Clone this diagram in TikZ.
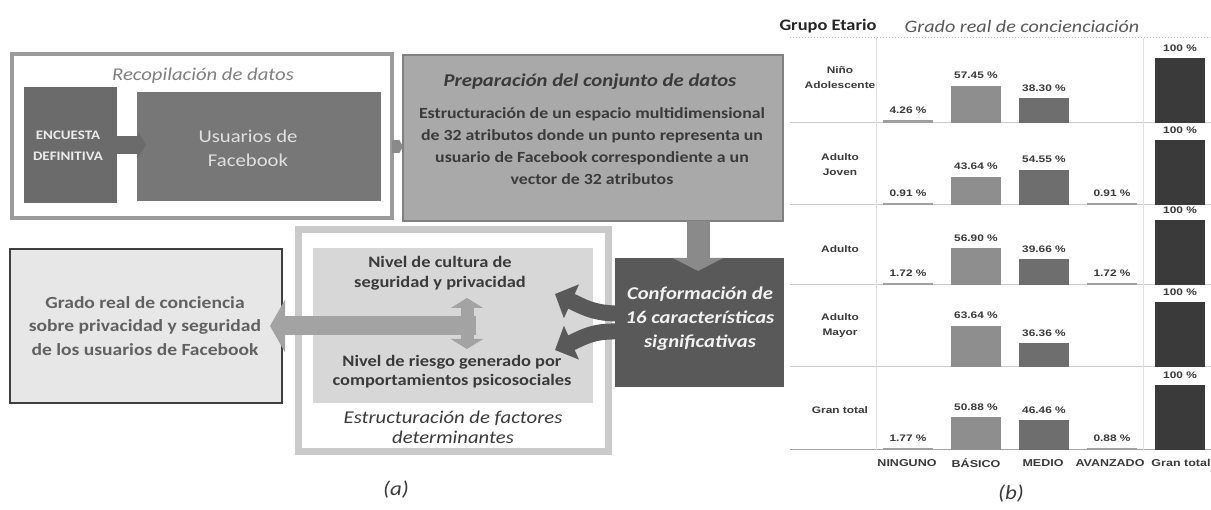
\documentclass[tikz,border=0pt]{standalone}
\usepackage{fontspec}
\setmainfont{Carlito}[FakeStretch=1.15]
\newfontfamily\chartfont{Liberation Sans}[FakeStretch=1.25]
\usetikzlibrary{arrows.meta,calc}
\definecolor{cEnc}{HTML}{6B6B6B}
\definecolor{cUsu}{HTML}{777777}
\definecolor{cPrep}{HTML}{A9A9A9}
\definecolor{cPrepB}{HTML}{808080}
\definecolor{cConf}{HTML}{595959}
\definecolor{cInner}{HTML}{D7D7D7}
\definecolor{cOuter}{HTML}{CACACA}
\definecolor{cGrado}{HTML}{E7E7E7}
\definecolor{cGradoB}{HTML}{3F3F3F}
\definecolor{cArrL}{HTML}{A3A3A3}
\definecolor{cArrD}{HTML}{8A8A8A}
\definecolor{cRecB}{HTML}{9B9B9B}
\definecolor{cBas}{HTML}{8E8E8E}
\definecolor{cMed}{HTML}{6E6E6E}
\definecolor{cGT}{HTML}{3A3A3A}
\definecolor{cThin}{HTML}{A0A0A0}
\definecolor{cGrid}{HTML}{CDCDCD}
\definecolor{cTxt}{HTML}{3A3A3A}
\newcommand\chartbar[5]{%
  \fill[#4] (#1,#2) rectangle ++(50,{-max(2,0.65*#3)});
  \node[pctlbl] at ({#1+25},{#2-max(2,0.65*#3)-10}) {#5};}
\begin{document}
\begin{tikzpicture}[x=1pt,y=-1pt,
  box/.style={rectangle,inner sep=0pt,outer sep=0pt},
  lbl/.style={align=center,inner sep=0pt},
  pctlbl/.style={inner sep=0pt,font=\chartfont\bfseries\fontsize{9.5}{11}\selectfont,text=cTxt},
  rowlbl/.style={inner sep=0pt,align=center,font=\chartfont\bfseries\fontsize{9.5}{15}\selectfont,text=cTxt},
  collbl/.style={inner sep=0pt,font=\chartfont\bfseries\fontsize{10}{12}\selectfont,text=cTxt}]
\useasboundingbox[fill=white] (0,0) rectangle (1211,510);

% ---------- (a) ----------
\node[box,draw=cRecB,line width=4pt,fill=white,minimum width=380pt,minimum height=164pt] (rec) at (202,136) {};
\node[lbl,font=\itshape\fontsize{18}{20}\selectfont,text=gray] (recT) at (203,76) {Recopilación de datos};
\node[box,fill=cEnc,minimum width=93pt,minimum height=116pt] (enc) at (70.5,145) {};
\node[box,fill=cUsu,minimum width=244pt,minimum height=109pt] (usu) at (259,146.5) {};
\node[lbl,font=\bfseries\fontsize{13}{21}\selectfont,text=white!92!black] (encT) at (68,146) {ENCUESTA\\DEFINITIVA};
\node[lbl,font=\fontsize{18}{24}\selectfont,text=white!88!black] (usuT) at (248,148) {Usuarios de\\Facebook};
\draw[cEnc,line width=18pt,-{Triangle[length=8pt,width=26pt]},shorten >=-9pt] (enc.east) -- (enc.east -| usu.west);

\node[box,fill=cPrep,draw=cPrepB,line width=2pt,minimum width=380pt,minimum height=166pt] (prep) at (593,138) {};
\node[lbl,font=\bfseries\itshape\fontsize{18}{20}\selectfont,text=cTxt] (prepT) at (590,82) {Preparación del conjunto de datos};
\node[lbl,font=\bfseries\fontsize{15.5}{22}\selectfont,text=cTxt] (prepB) at (592,146) {Estructuración de un espacio multidimensional\\de 32 atributos donde un punto representa un\\usuario de Facebook correspondiente a un\\vector de 32 atributos};
\draw[cArrD,line width=13pt,-{Triangle[length=4pt,width=14pt]}] (rec.east |- usu.center) -- (prep.west |- usu.center);

\node[box,fill=cConf,minimum width=169pt,minimum height=129pt] (conf) at (699.5,322.5) {};
\node[lbl,font=\bfseries\itshape\fontsize{18}{24}\selectfont,text=white!95!black] (confT) at (700,319) {Conformación de\\16 características\\significativas};
\coordinate (dtop) at ($(prep.south)+(105,0)$);
\coordinate (dtip) at ($(conf.north)+(-1.5,13)$);
\draw[cArrD,line width=23pt,-{Triangle[length=13pt,width=50pt]}] (dtop) -- (dtip);

\node[box,fill=white,draw=cOuter,line width=7pt,minimum width=310pt,minimum height=222pt] (est) at (453,341) {};
\node[box,fill=cInner,minimum width=280pt,minimum height=155pt] (inner) at (453,325.5) {};
\node[lbl,font=\bfseries\fontsize{16}{20}\selectfont,text=cTxt] (niv1) at (440,273) {Nivel de cultura de\\seguridad y privacidad};
\node[lbl,font=\bfseries\fontsize{16}{19}\selectfont,text=cTxt] (niv2) at (452,372) {Nivel de riesgo generado por\\comportamientos psicosociales};
\node[lbl,font=\itshape\fontsize{18}{20}\selectfont,text=cTxt] (estT) at (453,427) {Estructuración de factores\\determinantes};

\node[box,fill=cGrado,draw=cGradoB,line width=2.5pt,minimum width=272pt,minimum height=154pt] (grado) at (146,326) {};
\node[lbl,font=\bfseries\fontsize{17}{23.5}\selectfont,text=cTxt!80!white] (gradoT) at (145,326) {Grado real de conciencia\\sobre privacidad y seguridad\\de los usuarios de Facebook};

\coordinate (lstart) at (476,326);
\draw[cArrL,line width=19pt,-{Triangle[length=15pt,width=52pt]},shorten >=-12pt] (lstart) -- (lstart -| grado.east);
\coordinate (vtop) at (467,298);
\coordinate (vbot) at (467,349);
\draw[cArrL,line width=13pt,{Triangle[length=10pt,width=32pt]}-{Triangle[length=10pt,width=32pt]}] (vtop) -- (vbot);

\coordinate (cu) at ($(conf.west)+(1,-9)$);
\coordinate (cd) at ($(conf.west)+(1,9)$);
\draw[cConf,line width=16pt,-{Triangle[length=18pt,width=36pt]}] (cu) .. controls (592,313) and (582,306) .. (555,294);
\draw[cConf,line width=16pt,-{Triangle[length=18pt,width=36pt]}] (cd) .. controls (592,331) and (582,338) .. (555,350);

\node[lbl,font=\itshape\fontsize{20}{24}\selectfont,text=cTxt] (capA) at (396,490) {(a)};

% ---------- (b) ----------
\node[lbl,font=\bfseries\fontsize{16}{20}\selectfont,text=black!85] (hG) at (828,26) {Grupo Etario};
\node[lbl,font=\itshape\fontsize{17.5}{20}\selectfont,text=black!65] (hR) at (1022,26) {Grado real de concienciación};
\draw[black!25,dotted,line width=1pt] (790,38) -- (1211,38);
\foreach \yy in {123,205,285,367} \draw[cGrid,line width=1pt] (790,\yy) -- (1211,\yy);
\draw[black!35,line width=1pt] (790,450) -- (1211,450);
\draw[black!12,line width=1pt] (876,38) -- (876,450);
\draw[black!12,line width=1pt] (1143,38) -- (1143,450);

\node[rowlbl] (r1) at (840,78) {Niño\\Adolescente};
\node[rowlbl] (r2) at (840,165) {Adulto\\Joven};
\node[rowlbl] (r3) at (840,249) {Adulto};
\node[rowlbl] (r4) at (840,326) {Adulto\\Mayor};
\node[rowlbl] (r5) at (840,410) {Gran total};

% row 1
\chartbar{883}{123}{4.26}{cThin}{4.26 \%}
\chartbar{951}{123}{57.45}{cBas}{57.45 \%}
\chartbar{1019}{123}{38.30}{cMed}{38.30 \%}
\chartbar{1155}{123}{100}{cGT}{100 \%}
% row 2
\chartbar{883}{205}{0.91}{cThin}{0.91 \%}
\chartbar{951}{205}{43.64}{cBas}{43.64 \%}
\chartbar{1019}{205}{54.55}{cMed}{54.55 \%}
\chartbar{1087}{205}{0.91}{cThin}{0.91 \%}
\chartbar{1155}{205}{100}{cGT}{100 \%}
% row 3
\chartbar{883}{285}{1.72}{cThin}{1.72 \%}
\chartbar{951}{285}{56.90}{cBas}{56.90 \%}
\chartbar{1019}{285}{39.66}{cMed}{39.66 \%}
\chartbar{1087}{285}{1.72}{cThin}{1.72 \%}
\chartbar{1155}{285}{100}{cGT}{100 \%}
% row 4
\chartbar{951}{367}{63.64}{cBas}{63.64 \%}
\chartbar{1019}{367}{36.36}{cMed}{36.36 \%}
\chartbar{1155}{367}{100}{cGT}{100 \%}
% row 5
\chartbar{883}{450}{1.77}{cThin}{1.77 \%}
\chartbar{951}{450}{50.88}{cBas}{50.88 \%}
\chartbar{1019}{450}{46.46}{cMed}{46.46 \%}
\chartbar{1087}{450}{0.88}{cThin}{0.88 \%}
\chartbar{1155}{450}{100}{cGT}{100 \%}

\node[collbl] (c1) at (907,463) {NINGUNO};
\node[collbl] (c2) at (976,463) {BÁSICO};
\node[collbl] (c3) at (1043,463) {MEDIO};
\node[collbl] (c4) at (1110,463) {AVANZADO};
\node[collbl] (c5) at (1181,463) {Gran total};

\node[lbl,font=\itshape\fontsize{20}{24}\selectfont,text=cTxt] (capB) at (1011,494) {(b)};
\end{tikzpicture}
\end{document}
